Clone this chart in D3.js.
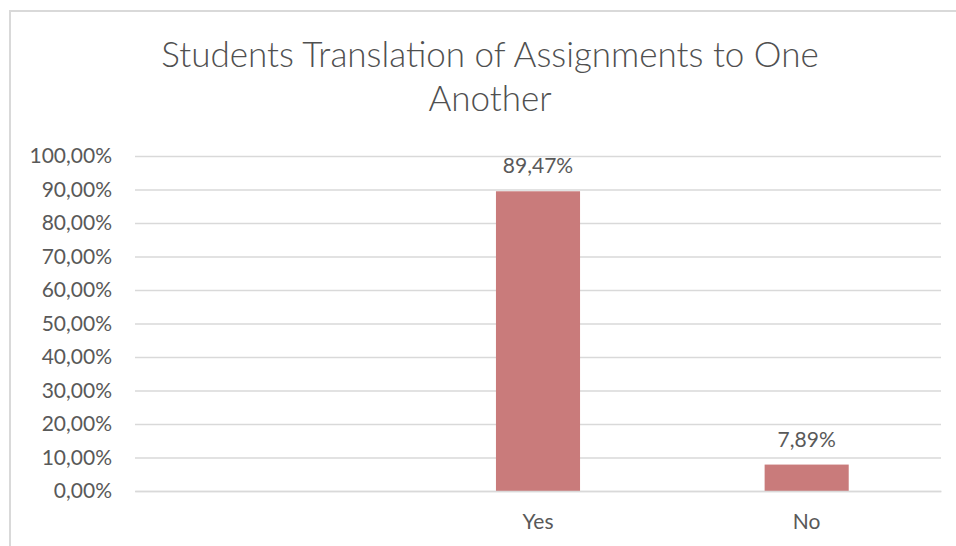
<!DOCTYPE html>
<html>
<head>
<meta charset="utf-8">
<script src="https://cdn.jsdelivr.net/npm/d3@7"></script>
<style>
  html, body { margin: 0; padding: 0; background: #fff; }
  svg { display: block; }
  text { font-family: Lato, "Open Sans", sans-serif; fill: #595959; }
</style>
</head>
<body>
<svg id="chart" width="956" height="546"></svg>
<script>
// Survey answers and their shares
const categories = ["", "Yes", "No"];
const shares = [null, 0.8947, 0.0789];
const yTicks = [0, 0.1, 0.2, 0.3, 0.4, 0.5, 0.6, 0.7, 0.8, 0.9, 1.0];
const titleLines = ["Students Translation of Assignments to One", "Another"];

const W = 956, H = 546;
const margin = { top: 156, right: 15, bottom: 55, left: 135 };
const svg = d3.select("#chart");

// decimal comma percentages, e.g. 89,47%
const locale = d3.formatLocale({ decimal: ",", thousands: ".", grouping: [3], currency: ["", "€"] });
const pct = locale.format(".2%");

// chart frame
svg.append("rect")
  .attr("x", 10).attr("y", 11)
  .attr("width", W + 20).attr("height", H + 20)
  .attr("fill", "none").attr("stroke", "#d9d9d9").attr("stroke-width", 2);

// title (light weight)
svg.append("g").selectAll("text").data(titleLines).join("text")
  .attr("x", 490)
  .attr("y", (d, i) => 67 + i * 44)
  .attr("text-anchor", "middle")
  .style("font-size", "35px")
  .style("font-weight", 300)
  .style("fill", "#505050")
  .text(d => d);

const x = d3.scaleBand()
  .domain(categories)
  .range([margin.left, W - margin.right])
  .paddingInner(0.687)
  .paddingOuter(0.3435);

const y = d3.scaleLinear()
  .domain([0, 1])
  .range([H - margin.bottom, margin.top]);

// gridlines and value labels on the left
const yAxis = svg.append("g")
  .attr("transform", `translate(${margin.left},0)`)
  .call(d3.axisLeft(y).tickValues(yTicks).tickFormat(pct)
    .tickSize(-(W - margin.right - margin.left)).tickPadding(23));
yAxis.select(".domain").remove();
yAxis.selectAll(".tick line").attr("stroke", "#d9d9d9").attr("stroke-width", 1.5);
yAxis.selectAll(".tick text").style("font-size", "21px").attr("fill", "#595959").attr("font-family", null);

// bars
const data = categories.map((c, i) => ({ c, v: shares[i] })).filter(d => d.v != null);
svg.append("g").selectAll("rect").data(data).join("rect")
  .attr("x", d => x(d.c))
  .attr("y", d => y(d.v))
  .attr("width", x.bandwidth())
  .attr("height", d => y(0) - y(d.v))
  .attr("fill", "#c97b7b");

// category axis along the bottom
const xAxis = svg.append("g")
  .attr("transform", `translate(0,${y(0)})`)
  .call(d3.axisBottom(x).tickSize(0).tickPadding(23));
xAxis.select(".domain").attr("stroke", "#d9d9d9").attr("stroke-width", 1.5);
xAxis.selectAll(".tick text").style("font-size", "21px").attr("fill", "#595959").attr("font-family", null);

// value labels above the bars
svg.append("g").selectAll("text").data(data).join("text")
  .attr("x", d => x(d.c) + x.bandwidth() / 2)
  .attr("y", d => y(d.v) - 18)
  .attr("text-anchor", "middle")
  .style("font-size", "21px")
  .text(d => pct(d.v));
</script>
</body>
</html>
